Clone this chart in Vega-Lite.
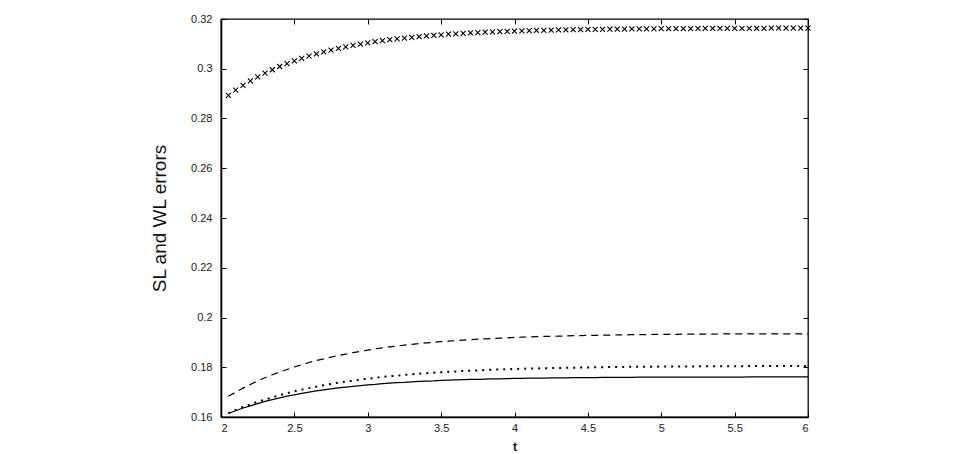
{
  "$schema": "https://vega.github.io/schema/vega-lite/v6.json",
  "width": 587,
  "height": 398,
  "autosize": "none",
  "padding": {"left": 221, "top": 19, "right": 155, "bottom": 37},
  "background": "white",
  "config": {
    "view": {"stroke": "black", "strokeWidth": 1.3},
    "axis": {
      "labelFont": "Liberation Sans",
      "titleFont": "Liberation Sans",
      "labelFontSize": 11,
      "labelColor": "#222222",
      "titleColor": "#111111",
      "domainColor": "black",
      "domainWidth": 1.6,
      "tickColor": "black",
      "tickWidth": 1,
      "tickSize": -5,
      "grid": false
    }
  },
  "data": {
    "values": [
      {"t":2.05,"c":0.2893,"s":0.1614,"d":0.1615,"a":0.1683},
      {"t":2.1,"c":0.2914,"s":0.1625,"d":0.1628,"a":0.1700},
      {"t":2.15,"c":0.2933,"s":0.1636,"d":0.1640,"a":0.1716},
      {"t":2.2,"c":0.2951,"s":0.1645,"d":0.1651,"a":0.1731},
      {"t":2.25,"c":0.2967,"s":0.1654,"d":0.1661,"a":0.1745},
      {"t":2.3,"c":0.2982,"s":0.1663,"d":0.1670,"a":0.1758},
      {"t":2.35,"c":0.2996,"s":0.1670,"d":0.1679,"a":0.1770},
      {"t":2.4,"c":0.3009,"s":0.1677,"d":0.1688,"a":0.1781},
      {"t":2.45,"c":0.3021,"s":0.1684,"d":0.1696,"a":0.1791},
      {"t":2.5,"c":0.3032,"s":0.1689,"d":0.1703,"a":0.1801},
      {"t":2.55,"c":0.3042,"s":0.1695,"d":0.1710,"a":0.1810},
      {"t":2.6,"c":0.3051,"s":0.1700,"d":0.1716,"a":0.1819},
      {"t":2.65,"c":0.3060,"s":0.1705,"d":0.1722,"a":0.1827},
      {"t":2.7,"c":0.3068,"s":0.1709,"d":0.1728,"a":0.1834},
      {"t":2.75,"c":0.3075,"s":0.1713,"d":0.1733,"a":0.1841},
      {"t":2.8,"c":0.3082,"s":0.1717,"d":0.1738,"a":0.1847},
      {"t":2.85,"c":0.3088,"s":0.1720,"d":0.1742,"a":0.1853},
      {"t":2.9,"c":0.3094,"s":0.1723,"d":0.1746,"a":0.1859},
      {"t":2.95,"c":0.3099,"s":0.1726,"d":0.1750,"a":0.1864},
      {"t":3.0,"c":0.3104,"s":0.1729,"d":0.1754,"a":0.1869},
      {"t":3.05,"c":0.3109,"s":0.1731,"d":0.1757,"a":0.1874},
      {"t":3.1,"c":0.3113,"s":0.1734,"d":0.1761,"a":0.1878},
      {"t":3.15,"c":0.3117,"s":0.1736,"d":0.1764,"a":0.1882},
      {"t":3.2,"c":0.3120,"s":0.1738,"d":0.1766,"a":0.1885},
      {"t":3.25,"c":0.3123,"s":0.1739,"d":0.1769,"a":0.1889},
      {"t":3.3,"c":0.3126,"s":0.1741,"d":0.1772,"a":0.1892},
      {"t":3.35,"c":0.3129,"s":0.1743,"d":0.1774,"a":0.1895},
      {"t":3.4,"c":0.3132,"s":0.1744,"d":0.1776,"a":0.1898},
      {"t":3.45,"c":0.3134,"s":0.1745,"d":0.1778,"a":0.1900},
      {"t":3.5,"c":0.3136,"s":0.1747,"d":0.1780,"a":0.1903},
      {"t":3.55,"c":0.3139,"s":0.1748,"d":0.1782,"a":0.1905},
      {"t":3.6,"c":0.3140,"s":0.1749,"d":0.1783,"a":0.1907},
      {"t":3.65,"c":0.3142,"s":0.1750,"d":0.1785,"a":0.1909},
      {"t":3.7,"c":0.3144,"s":0.1751,"d":0.1786,"a":0.1911},
      {"t":3.75,"c":0.3145,"s":0.1751,"d":0.1787,"a":0.1913},
      {"t":3.8,"c":0.3147,"s":0.1752,"d":0.1789,"a":0.1914},
      {"t":3.85,"c":0.3148,"s":0.1753,"d":0.1790,"a":0.1916},
      {"t":3.9,"c":0.3149,"s":0.1753,"d":0.1791,"a":0.1917},
      {"t":3.95,"c":0.3150,"s":0.1754,"d":0.1792,"a":0.1918},
      {"t":4.0,"c":0.3151,"s":0.1755,"d":0.1793,"a":0.1920},
      {"t":4.05,"c":0.3152,"s":0.1755,"d":0.1794,"a":0.1921},
      {"t":4.1,"c":0.3153,"s":0.1756,"d":0.1795,"a":0.1922},
      {"t":4.15,"c":0.3154,"s":0.1756,"d":0.1795,"a":0.1923},
      {"t":4.2,"c":0.3154,"s":0.1756,"d":0.1796,"a":0.1924},
      {"t":4.25,"c":0.3155,"s":0.1757,"d":0.1797,"a":0.1924},
      {"t":4.3,"c":0.3156,"s":0.1757,"d":0.1797,"a":0.1925},
      {"t":4.35,"c":0.3156,"s":0.1757,"d":0.1798,"a":0.1926},
      {"t":4.4,"c":0.3157,"s":0.1758,"d":0.1798,"a":0.1927},
      {"t":4.45,"c":0.3157,"s":0.1758,"d":0.1799,"a":0.1927},
      {"t":4.5,"c":0.3158,"s":0.1758,"d":0.1799,"a":0.1928},
      {"t":4.55,"c":0.3158,"s":0.1758,"d":0.1800,"a":0.1928},
      {"t":4.6,"c":0.3158,"s":0.1759,"d":0.1800,"a":0.1929},
      {"t":4.65,"c":0.3159,"s":0.1759,"d":0.1801,"a":0.1929},
      {"t":4.7,"c":0.3159,"s":0.1759,"d":0.1801,"a":0.1930},
      {"t":4.75,"c":0.3159,"s":0.1759,"d":0.1801,"a":0.1930},
      {"t":4.8,"c":0.3160,"s":0.1759,"d":0.1802,"a":0.1931},
      {"t":4.85,"c":0.3160,"s":0.1760,"d":0.1802,"a":0.1931},
      {"t":4.9,"c":0.3160,"s":0.1760,"d":0.1802,"a":0.1931},
      {"t":4.95,"c":0.3160,"s":0.1760,"d":0.1802,"a":0.1932},
      {"t":5.0,"c":0.3161,"s":0.1760,"d":0.1803,"a":0.1932},
      {"t":5.05,"c":0.3161,"s":0.1760,"d":0.1803,"a":0.1932},
      {"t":5.1,"c":0.3161,"s":0.1760,"d":0.1803,"a":0.1932},
      {"t":5.15,"c":0.3161,"s":0.1760,"d":0.1803,"a":0.1933},
      {"t":5.2,"c":0.3161,"s":0.1760,"d":0.1803,"a":0.1933},
      {"t":5.25,"c":0.3162,"s":0.1760,"d":0.1804,"a":0.1933},
      {"t":5.3,"c":0.3162,"s":0.1760,"d":0.1804,"a":0.1933},
      {"t":5.35,"c":0.3162,"s":0.1760,"d":0.1804,"a":0.1933},
      {"t":5.4,"c":0.3162,"s":0.1760,"d":0.1804,"a":0.1934},
      {"t":5.45,"c":0.3162,"s":0.1760,"d":0.1804,"a":0.1934},
      {"t":5.5,"c":0.3162,"s":0.1760,"d":0.1804,"a":0.1934},
      {"t":5.55,"c":0.3162,"s":0.1760,"d":0.1804,"a":0.1934},
      {"t":5.6,"c":0.3162,"s":0.1761,"d":0.1805,"a":0.1934},
      {"t":5.65,"c":0.3162,"s":0.1761,"d":0.1805,"a":0.1934},
      {"t":5.7,"c":0.3162,"s":0.1761,"d":0.1805,"a":0.1934},
      {"t":5.75,"c":0.3163,"s":0.1761,"d":0.1805,"a":0.1934},
      {"t":5.8,"c":0.3163,"s":0.1761,"d":0.1805,"a":0.1934},
      {"t":5.85,"c":0.3163,"s":0.1761,"d":0.1805,"a":0.1934},
      {"t":5.9,"c":0.3163,"s":0.1761,"d":0.1805,"a":0.1934},
      {"t":5.95,"c":0.3163,"s":0.1761,"d":0.1805,"a":0.1934},
      {"t":6.0,"c":0.3163,"s":0.1761,"d":0.1805,"a":0.1934}
    ]
  },
  "layer": [
    {
      "mark": {"type": "point", "shape": "M-1,-1L1,1M-1,1L1,-1", "filled": false, "stroke": "black", "strokeWidth": 1.1, "size": 25, "opacity": 1},
      "encoding": {
        "x": {
          "field": "t", "type": "quantitative",
          "scale": {"domain": [2, 6], "nice": false, "zero": false},
          "axis": {"orient": "bottom", "values": [2, 2.5, 3, 3.5, 4, 4.5, 5, 5.5, 6], "format": "~g", "labelPadding": 10, "title": "t", "titleFontSize": 12, "titleFontWeight": "bold", "titleY": 24, "titleBaseline": "top"}
        },
        "y": {
          "field": "c", "type": "quantitative",
          "scale": {"domain": [0.16, 0.32], "nice": false, "zero": false},
          "axis": {"orient": "left", "values": [0.16, 0.18, 0.2, 0.22, 0.24, 0.26, 0.28, 0.3, 0.32], "format": "~g", "labelPadding": 14, "title": "SL and WL errors", "titleFontSize": 19, "titleFontWeight": "normal", "titleX": -62, "titleY": 199, "titleBaseline": "middle", "titleAlign": "center", "titleAngle": 270}
        }
      }
    },
    {
      "mark": {"type": "line", "color": "black", "strokeWidth": 1.2},
      "encoding": {
        "x": {"field": "t", "type": "quantitative", "axis": {"orient": "top", "values": [2, 2.5, 3, 3.5, 4, 4.5, 5, 5.5, 6], "labels": false, "domain": false, "title": null}},
        "y": {"field": "s", "type": "quantitative", "axis": {"orient": "right", "values": [0.16, 0.18, 0.2, 0.22, 0.24, 0.26, 0.28, 0.3, 0.32], "labels": false, "domain": false, "title": null}}
      }
    },
    {
      "mark": {"type": "line", "color": "black", "strokeWidth": 2, "strokeDash": [2, 5]},
      "encoding": {
        "x": {"field": "t", "type": "quantitative", "axis": null},
        "y": {"field": "d", "type": "quantitative", "axis": null}
      }
    },
    {
      "mark": {"type": "line", "color": "black", "strokeWidth": 1.2, "strokeDash": [7, 5]},
      "encoding": {
        "x": {"field": "t", "type": "quantitative", "axis": null},
        "y": {"field": "a", "type": "quantitative", "axis": null}
      }
    }
  ],
  "resolve": {"axis": {"x": "independent", "y": "independent"}}
}
